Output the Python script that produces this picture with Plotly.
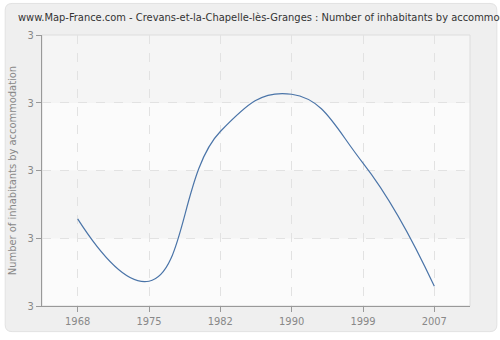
import plotly.graph_objects as go

years = ["1968", "1975", "1982", "1990", "1999", "2007"]
values = [2.857, 2.673, 3.115, 3.225, 3.022, 2.658]
ytick_vals = [2.6, 2.8, 3.0, 3.2, 3.4]
ytick_text = ["3", "3", "3", "3", "3"]

W, H = 500, 340
L, R, T, B = 40, 30, 35, 30
pw, ph = W - L - R, H - T - B

FONT = "DejaVu Sans Condensed, Liberation Sans, sans-serif"

def px(x):
    return (x - L) / pw

def py(y):
    return (H - B - y) / ph

def rounded_path(x0, y0, x1, y1, r):
    pts = []
    pts.append(f"M {px(x0 + r)},{py(y0)}")
    pts.append(f"L {px(x1 - r)},{py(y0)}")
    pts.append(f"Q {px(x1)},{py(y0)} {px(x1)},{py(y0 + r)}")
    pts.append(f"L {px(x1)},{py(y1 - r)}")
    pts.append(f"Q {px(x1)},{py(y1)} {px(x1 - r)},{py(y1)}")
    pts.append(f"L {px(x0 + r)},{py(y1)}")
    pts.append(f"Q {px(x0)},{py(y1)} {px(x0)},{py(y1 - r)}")
    pts.append(f"L {px(x0)},{py(y0 + r)}")
    pts.append(f"Q {px(x0)},{py(y0)} {px(x0 + r)},{py(y0)}")
    pts.append("Z")
    return " ".join(pts)

xidx = list(range(len(years)))

fig = go.Figure()
fig.add_trace(go.Scatter(
    x=xidx, y=values, mode="lines",
    line=dict(color="#4a74a8", width=1.2, shape="spline", smoothing=1.3),
    hoverinfo="skip", showlegend=False,
))

shapes = [
    dict(type="path", xref="paper", yref="paper", path=rounded_path(3, 3, 497, 336, 7),
         fillcolor="#efefef", line=dict(color="#e2e2e2", width=1), layer="below"),
]
band_edges = ytick_vals
for i in range(len(band_edges) - 1):
    shapes.append(dict(type="rect", xref="paper", yref="y", x0=0, x1=1,
                       y0=band_edges[i], y1=band_edges[i + 1],
                       fillcolor="#fbfbfb" if i % 2 == 0 else "#f5f5f5",
                       line=dict(width=0), layer="below"))
shapes.append(dict(type="rect", xref="paper", yref="paper", x0=0, x1=1, y0=0, y1=1,
                   line=dict(color="#dddddd", width=1), fillcolor="rgba(0,0,0,0)", layer="below"))

fig.update_layout(
    width=W, height=H,
    margin=dict(l=L, r=R, t=T, b=B),
    paper_bgcolor="white",
    plot_bgcolor="#fafafa",
    shapes=shapes,
    font=dict(family=FONT, size=11, color="#888888"),
    title=dict(
        text="www.Map-France.com - Crevans-et-la-Chapelle-lès-Granges : Number of inhabitants by accommodation",
        x=18 / W, xref="container", xanchor="left",
        y=1 - 17 / H, yref="container", yanchor="middle",
        font=dict(family=FONT, size=11, color="#333333"),
    ),
    xaxis=dict(
        range=[-0.5, 5.5], tickmode="array", tickvals=xidx, ticktext=years,
        showgrid=True, gridcolor="#e2e2e2", griddash="dash", gridwidth=1,
        showline=True, linecolor="#999999", linewidth=1,
        ticks="outside", ticklen=5, tickcolor="#999999",
        zeroline=False, fixedrange=True,
    ),
    yaxis=dict(
        range=[2.6, 3.4], tickmode="array", tickvals=ytick_vals, ticktext=ytick_text,
        showgrid=True, gridcolor="#e2e2e2", griddash="dash", gridwidth=1,
        showline=True, linecolor="#999999", linewidth=1,
        ticks="outside", ticklen=5, tickcolor="#999999",
        zeroline=False, fixedrange=True,
        title=dict(text="Number of inhabitants by accommodation", standoff=8,
                   font=dict(family=FONT, size=11, color="#888888")),
    ),
)

fig.write_html("out.html")
